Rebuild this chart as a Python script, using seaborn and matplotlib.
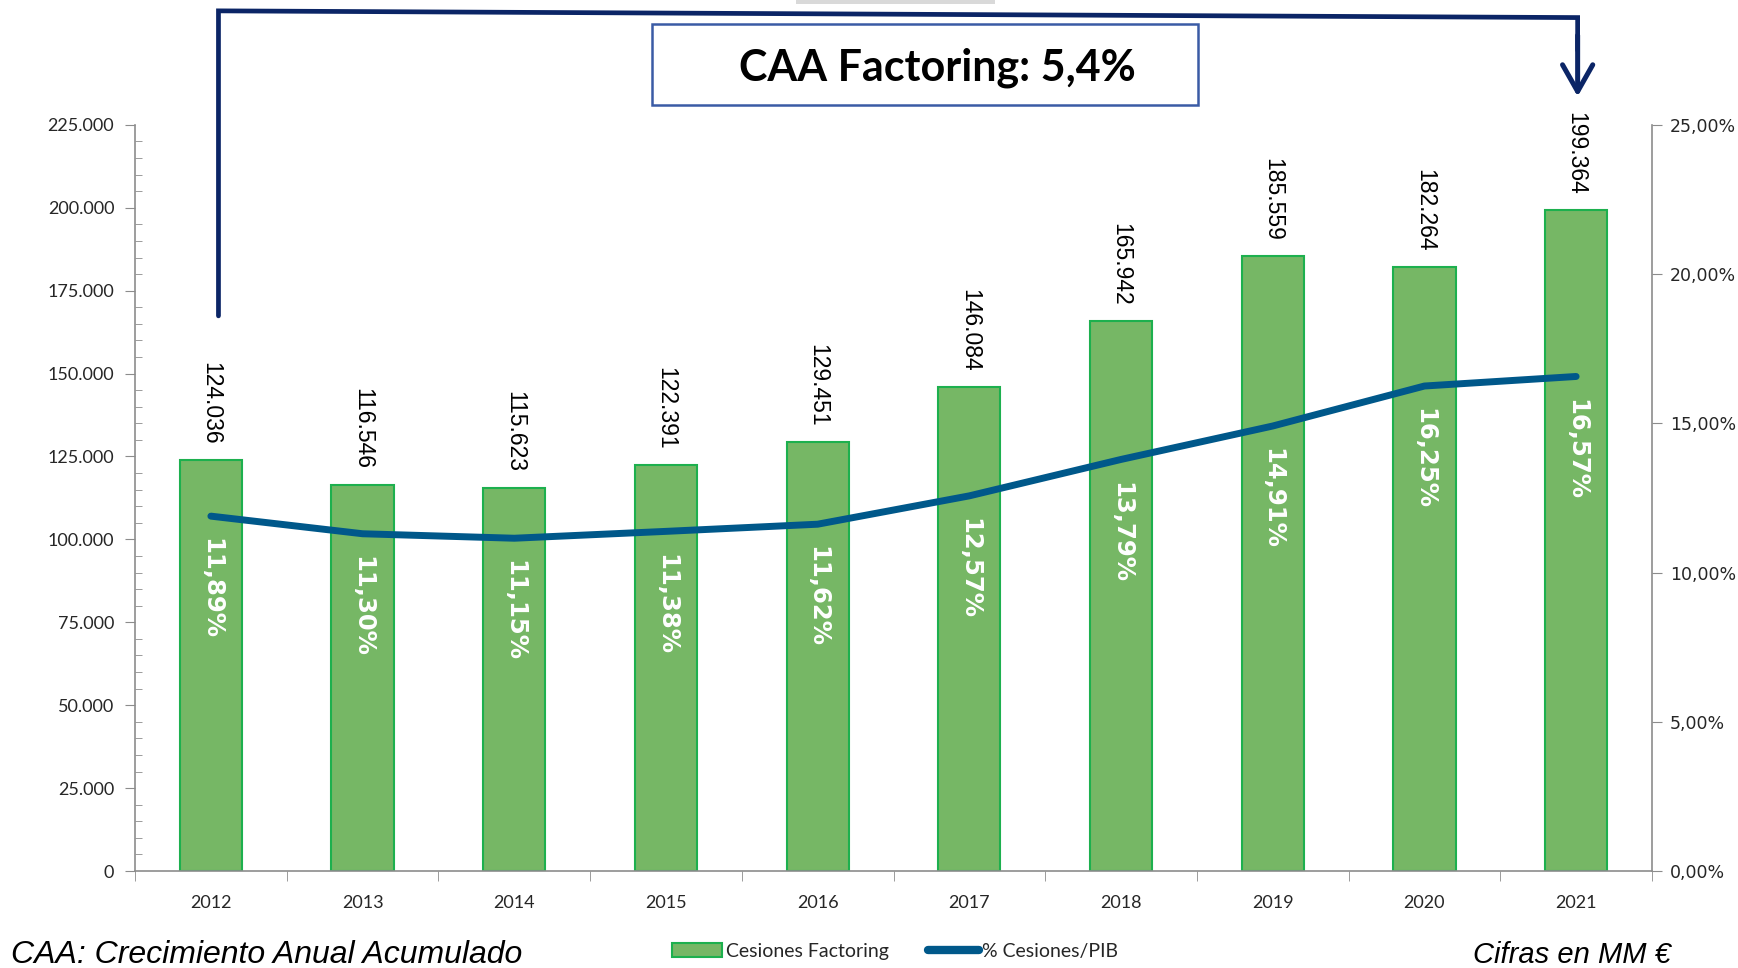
import numpy as np
import pandas as pd
import matplotlib
matplotlib.use("Agg")
import matplotlib.pyplot as plt
import matplotlib.transforms as mtransforms
from matplotlib.patches import Patch, Rectangle
from matplotlib.lines import Line2D
from matplotlib.ticker import FuncFormatter, MultipleLocator, FixedLocator
import seaborn as sns

# Data
years = ["2012", "2013", "2014", "2015", "2016", "2017", "2018", "2019", "2020", "2021"]
cesiones = [124036, 116546, 115623, 122391, 129451, 146084, 165942, 185559, 182264, 199364]
pct_pib = [11.89, 11.30, 11.15, 11.38, 11.62, 12.57, 13.79, 14.91, 16.25, 16.57]
caa_text = "CAA Factoring: 5,4%"

bar_color = "#76b765"
bar_edge = "#1db04e"
line_color = "#00588a"
navy = "#0b2566"
axis_gray = "#8c8c8c"

df = pd.DataFrame({"Año": years, "Cesiones": cesiones, "Pct": pct_pib})
df["pos"] = np.arange(len(df))

sns.set_style("white")
plt.rcParams["font.family"] = ["Lato", "DejaVu Sans"]

fig = plt.figure(figsize=(17.38, 9.68), dpi=100)
ax = fig.add_axes([0.0777, 0.1002, 0.8728, 0.7708])

sns.barplot(data=df, x="Año", y="Cesiones", color=bar_color, width=0.41,
            edgecolor=bar_edge, linewidth=1.5, saturation=1, ax=ax)
ax.set_xlim(-0.5, len(years) - 0.5)
ax.set_ylim(0, 225000)
ax.yaxis.set_major_locator(MultipleLocator(25000))
ax.yaxis.set_minor_locator(MultipleLocator(5000))
ax.yaxis.set_major_formatter(FuncFormatter(lambda v, p: f"{int(v):,}".replace(",", ".")))
ax.set_xlabel("")
ax.set_ylabel("")
ax.tick_params(axis="y", which="major", direction="out", length=7, color=axis_gray,
               labelsize=13, pad=8)
ax.tick_params(axis="y", which="minor", direction="in", length=5, color=axis_gray, left=True)
ax.xaxis.set_minor_locator(FixedLocator(np.arange(-0.5, len(years), 1.0)))
ax.tick_params(axis="x", which="major", length=0, labelsize=13, pad=17)
ax.tick_params(axis="x", which="minor", direction="out", length=7, color=axis_gray, bottom=True)
for s in ["top", "right"]:
    ax.spines[s].set_visible(False)
for s in ["left", "bottom"]:
    ax.spines[s].set_color(axis_gray)
    ax.spines[s].set_linewidth(1.2)

# value labels above bars
for i, v in enumerate(cesiones):
    ax.annotate(f"{v:,}".replace(",", "."), xy=(i, v), xytext=(0, 11),
                textcoords="offset points", ha="center", va="bottom", rotation=270,
                fontsize=16.5, family="Liberation Sans", color="black")

ax2 = ax.twinx()
sns.lineplot(data=df, x="pos", y="Pct", color=line_color, linewidth=5,
             solid_capstyle="round", ax=ax2)
ax2.set_ylim(0, 25)
ax2.set_xlim(-0.5, len(years) - 0.5)
ax2.yaxis.set_major_locator(MultipleLocator(5))
ax2.yaxis.set_major_formatter(FuncFormatter(lambda v, p: f"{v:.2f}%".replace(".", ",")))
ax2.set_ylabel("")
ax2.set_xlabel("")
ax2.tick_params(axis="y", which="major", direction="out", length=7, color=axis_gray,
                labelsize=12.5, pad=6)
for lab in ax2.get_yticklabels():
    lab.set_family("DejaVu Sans")
for s in ["top", "left", "bottom"]:
    ax2.spines[s].set_visible(False)
ax2.spines["right"].set_color(axis_gray)
ax2.spines["right"].set_linewidth(1.2)

# percentage labels inside bars
for i, p in enumerate(pct_pib):
    ax2.annotate(f"{p:.2f}%".replace(".", ","), xy=(i, p), xytext=(0, -16),
                 textcoords="offset points", ha="center", va="top", rotation=270,
                 fontsize=17.5, fontweight="bold", family="DejaVu Sans", color="white")

# bracket arrow across the top
tr = mtransforms.blended_transform_factory(ax2.transData, ax2.transAxes)
ax2.plot([0.05, 0.05, 9.01, 9.01], [0.744, 1.1528, 1.1438, 1.10], color=navy, lw=3.4,
         transform=tr, clip_on=False, solid_joinstyle="miter")
ax2.annotate("", xy=(9.01, 1.038), xycoords=tr, xytext=(9.01, 1.12), textcoords=tr,
             arrowprops=dict(arrowstyle="->,head_length=0.6,head_width=0.34", lw=3.6,
                             color=navy, mutation_scale=32, shrinkA=0, shrinkB=0),
             annotation_clip=False)

# title box
fig.patches.append(Rectangle((796 / 1738, 1 - 4 / 968), 199 / 1738, 4 / 968,
                             transform=fig.transFigure, facecolor="#d9d9d9",
                             edgecolor="none", zorder=0))
fig.patches.append(Rectangle((652 / 1738, 1 - 105 / 968), 546 / 1738, 81 / 968,
                             transform=fig.transFigure, facecolor="white",
                             edgecolor="#3a5ba5", linewidth=1.8, zorder=5))
fig.text(937 / 1738, 1 - 68 / 968, caa_text, ha="center", va="center", fontsize=31,
         fontweight="bold", color="black", zorder=6)

# legend
handles = [Patch(facecolor=bar_color, edgecolor=bar_edge, linewidth=1.5, label="Cesiones Factoring"),
           Line2D([0], [0], color=line_color, lw=6, solid_capstyle="round", label="% Cesiones/PIB")]
fig.legend(handles=handles, loc="center", bbox_to_anchor=(0.515, 0.017), ncol=2,
           frameon=False, fontsize=14, handlelength=2.6, handletextpad=0.2,
           columnspacing=2.0)

fig.text(11 / 1738, 0.013, "CAA: Crecimiento Anual Acumulado", ha="left", va="center",
         fontsize=23, style="italic", family="Liberation Sans", color="black")
fig.text(1671 / 1738, 0.013, "Cifras en MM €", ha="right", va="center",
         fontsize=21, style="italic", family="Liberation Sans", color="black")

fig.savefig("out.png", dpi=100)
